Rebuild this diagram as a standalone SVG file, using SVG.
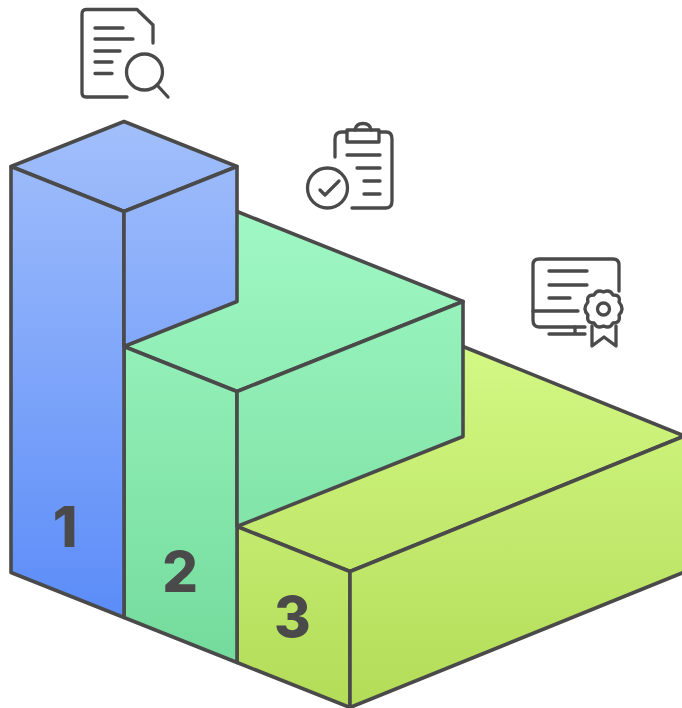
<svg xmlns="http://www.w3.org/2000/svg" width="682" height="708" viewBox="0 0 682 708">
<defs>
<linearGradient id="gb" gradientUnits="userSpaceOnUse" x1="0" y1="121" x2="0" y2="617"><stop offset="0" stop-color="#a2bffb"/><stop offset="1" stop-color="#5b8cf8"/></linearGradient>
<linearGradient id="gg" gradientUnits="userSpaceOnUse" x1="0" y1="211" x2="0" y2="662"><stop offset="0" stop-color="#a0f8c4"/><stop offset="1" stop-color="#74db9c"/></linearGradient>
<linearGradient id="gl" gradientUnits="userSpaceOnUse" x1="0" y1="346" x2="0" y2="707"><stop offset="0" stop-color="#d3f884"/><stop offset="1" stop-color="#b3dc58"/></linearGradient>
</defs>
<style>
.f{stroke:#4a4a4a;stroke-width:3.6;stroke-linejoin:round}
.b{fill:url(#gb)}.g{fill:url(#gg)}.l{fill:url(#gl)}
.i{fill:none;stroke:#4a4a4a;stroke-width:3.3;stroke-linecap:round;stroke-linejoin:round}
text{font-family:Inter,"Liberation Sans",Arial,sans-serif;font-weight:800;font-size:56px;fill:#4a4a4a;text-anchor:middle}
</style>
<rect width="682" height="708" fill="#fff"/>
<g id="step-3">
<path class="f l" d="M463 346.500L684.500 436L350 571.500L237 526.500Z"/>
<path class="f l" d="M237 526.500L350 571.500V707.500L237 662.500Z"/>
<path class="f l" d="M350 571.500L684.500 436V572L350 707.500Z"/>
<text x="292.500" y="636.500">3</text>
</g>
<g id="step-2">
<path class="f g" d="M237 211.500L463 301.500L237 391.500L124 346.500Z"/>
<path class="f g" d="M124 346.500L237 391.500V662.500L124 617.500Z"/>
<path class="f g" d="M237 391.500L463 301.500V436.500L237 526.500Z"/>
<text x="180" y="591.500">2</text>
</g>
<g id="step-1">
<path class="f b" d="M124 121.500L237 166.500L124 211.500L11 166.500Z"/>
<path class="f b" d="M11 166.500L124 211.500V617.500L11 572.500Z"/>
<path class="f b" d="M124 211.500L237 166.500V301.500L124 346.500Z"/>
<text x="65" y="546.500">1</text>
</g>
<g id="icon-document" class="i">
<path d="M127 97H86Q82 97 82 93V14Q82 9.500 86 9.500H137L153 25V43"/>
<path d="M95 28H123M95 39H133M95 51H120M95 62H112M95 73.500H112"/>
<circle cx="144.500" cy="72" r="18"/>
<path d="M157 85L168 97"/>
</g>
<g id="icon-checklist" class="i">
<path d="M335 157V139Q335 132 342 132H347M379 132H386Q392 132 392 139V201Q392 208 386 208H352"/>
<path d="M347 130H379V142H347Z"/>
<path d="M355 130Q356 123.500 363 123.500Q370 123.500 371 130"/>
<path d="M347 155H380M357 168H380M364 181H380M364 194H380"/>
<circle cx="327.500" cy="188" r="20"/>
<path d="M320 190L325 195L339 181"/>
</g>
<g id="icon-certificate" class="i">
<path d="M619 291V265Q619 259 613 259H539Q533 259 533 265V320Q533 327 539 327H585"/>
<path d="M533 311H578M549 271H587M549 285H587M549 298H570"/>
<path d="M575 327V334M549 334H585"/>
<path d="M603.500 292Q610 289 613 295Q621 295 619 302Q625 309 619 315Q621 323 613 323Q610 329 603.500 326Q597 329 594 323Q586 323 588 315Q582 309 588 302Q586 295 594 295Q597 289 603.500 292Z"/>
<circle cx="603.500" cy="309" r="6"/>
<path d="M592 326V346L604 337L616 346V326"/>
</g>
</svg>
